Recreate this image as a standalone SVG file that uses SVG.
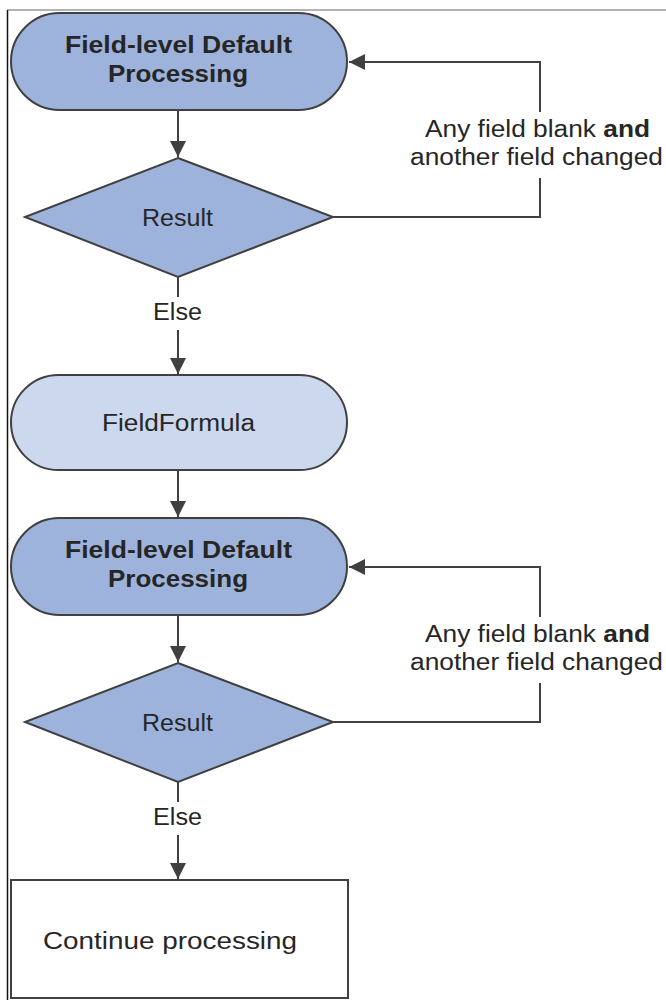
<svg xmlns="http://www.w3.org/2000/svg" width="666" height="1000" viewBox="0 0 666 1000">
<defs>
<style>
.frame{stroke-width:1.5;fill:none}
.node{stroke:#404040;stroke-width:2}
.dark{fill:#9eb3db}
.light{fill:#cbd8ee}
.box{fill:#ffffff}
.edge{stroke:#404040;stroke-width:2;fill:none}
.t{font-family:"Liberation Sans",Arial,sans-serif;font-size:23px;fill:#262626}
.c{text-anchor:middle}
.b{font-weight:bold}
</style>
<marker id="ah" viewBox="0 0 16 16" refX="16" refY="8" markerWidth="16" markerHeight="16" markerUnits="userSpaceOnUse" orient="auto">
<path d="M0,0 L16,8 L0,16 Z" fill="#404040"/>
</marker>
</defs>
<line class="frame" x1="7" y1="10" x2="666" y2="10" stroke="#999999"/>
<line class="frame" x1="7.5" y1="10" x2="7.5" y2="1000" stroke="#111111"/>

<g id="connectors">
<line class="edge" x1="178" y1="110" x2="178" y2="157" marker-end="url(#ah)"/>
<line class="edge" x1="178" y1="277" x2="178" y2="297"/>
<line class="edge" x1="178" y1="330" x2="178" y2="374" marker-end="url(#ah)"/>
<polyline class="edge" points="333,217 540,217 540,178"/>
<polyline class="edge" points="540,112 540,62 349,62" marker-end="url(#ah)"/>
<line class="edge" x1="178" y1="470" x2="178" y2="517" marker-end="url(#ah)"/>
<line class="edge" x1="178" y1="615" x2="178" y2="662" marker-end="url(#ah)"/>
<line class="edge" x1="178" y1="782" x2="178" y2="802"/>
<line class="edge" x1="178" y1="835" x2="178" y2="879" marker-end="url(#ah)"/>
<polyline class="edge" points="333,722 540,722 540,683"/>
<polyline class="edge" points="540,617 540,567 349,567" marker-end="url(#ah)"/>
<text class="t" x="425" y="137" textLength="225" lengthAdjust="spacingAndGlyphs">Any field blank <tspan class="b">and</tspan></text>
<text class="t" x="410" y="165" textLength="253" lengthAdjust="spacingAndGlyphs">another field changed</text>
<text class="t" x="153" y="320" textLength="49" lengthAdjust="spacingAndGlyphs">Else</text>
<text class="t" x="425" y="642" textLength="225" lengthAdjust="spacingAndGlyphs">Any field blank <tspan class="b">and</tspan></text>
<text class="t" x="410" y="670" textLength="253" lengthAdjust="spacingAndGlyphs">another field changed</text>
<text class="t" x="153" y="825" textLength="49" lengthAdjust="spacingAndGlyphs">Else</text>
</g>

<g id="default1">
<rect class="node dark" x="11" y="13" width="336" height="97" rx="48.5" ry="48.5"/>
<text class="t b c" x="178.5" y="53" textLength="227" lengthAdjust="spacingAndGlyphs">Field-level Default</text>
<text class="t b c" x="178" y="82" textLength="140" lengthAdjust="spacingAndGlyphs">Processing</text>
</g>

<g id="result1">
<polygon class="node dark" points="178,158 333,217 178,277 25,217"/>
<text class="t" x="142" y="226" textLength="71" lengthAdjust="spacingAndGlyphs">Result</text>
</g>

<g id="fieldformula">
<rect class="node light" x="11" y="375" width="336" height="95" rx="47.5" ry="47.5"/>
<text class="t" x="102" y="431" textLength="153" lengthAdjust="spacingAndGlyphs">FieldFormula</text>
</g>

<g id="default2">
<rect class="node dark" x="11" y="518" width="336" height="97" rx="48.5" ry="48.5"/>
<text class="t b c" x="178.5" y="558" textLength="227" lengthAdjust="spacingAndGlyphs">Field-level Default</text>
<text class="t b c" x="178" y="587" textLength="140" lengthAdjust="spacingAndGlyphs">Processing</text>
</g>

<g id="result2">
<polygon class="node dark" points="178,663 333,722 178,782 25,722"/>
<text class="t" x="142" y="731" textLength="71" lengthAdjust="spacingAndGlyphs">Result</text>
</g>

<g id="continue">
<rect class="node box" x="11" y="880" width="337" height="118"/>
<text class="t" x="43" y="949" textLength="254" lengthAdjust="spacingAndGlyphs">Continue processing</text>
</g>
</svg>
